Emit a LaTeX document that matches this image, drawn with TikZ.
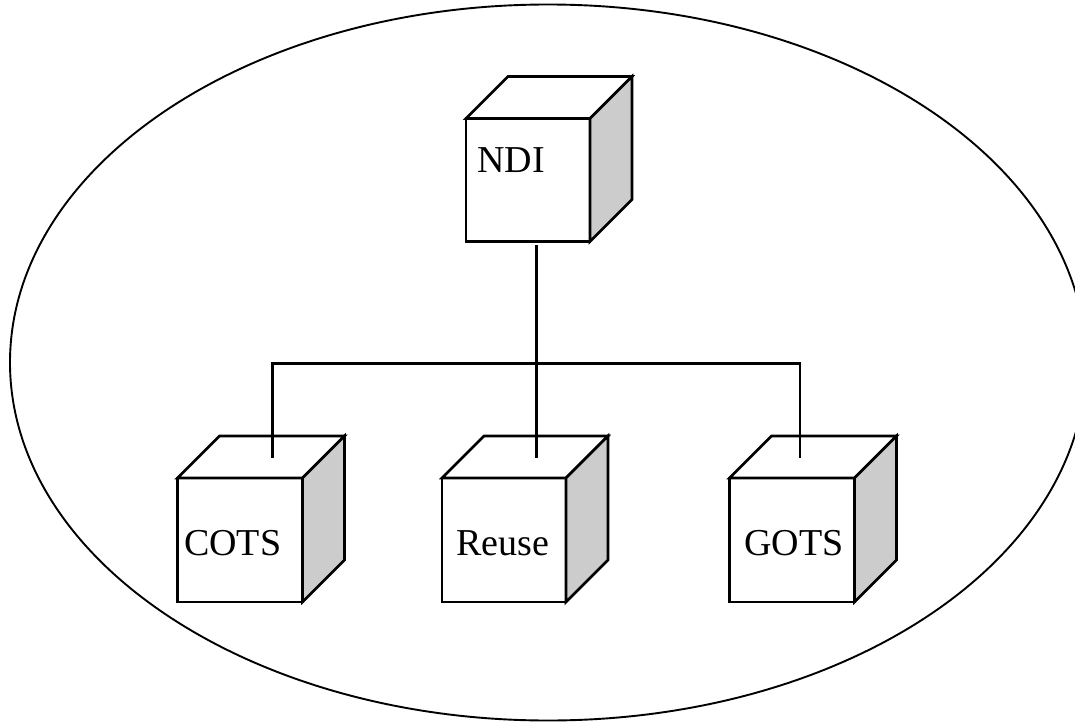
\documentclass[tikz,border=0pt]{standalone}
\usepackage{fontspec}
\setmainfont{Liberation Serif}
\tikzset{
  face/.style={draw=black, line width=2.6pt, line join=miter},
  front/.style={face, fill=white, inner sep=0pt, outer sep=0pt, anchor=north west},
  side/.style={face, fill=black!20},
  top/.style={face, fill=white},
  wire/.style={draw=black, line width=2.4pt},
  caption/.style={anchor=base west, inner sep=0pt, font=\fontsize{38}{40}\selectfont},
}
% #1 name, #2 x, #3 y of the front face's top-left corner, #4 width, #5 height
\newcommand\boxcube[5]{%
  \node[front, minimum width=#4pt, minimum height=#5pt] (#1) at (#2,#3) {};
  \draw[top]  (#1.north west) -- ++(42,-42) -- ++(#4,0) -- (#1.north east) -- cycle;
  \draw[side] (#1.north east) -- ++(42,-42) -- ++(0,#5) -- (#1.south east) -- cycle;
}
\begin{document}
\begin{tikzpicture}[x=1pt, y=-1pt]
  \useasboundingbox (0,0) rectangle (1075,722);
  % enclosing ellipse
  \draw[line width=1.9pt] (548,362.5) ellipse [x radius=538, y radius=358];

  % cubes
  \boxcube{ndi}{466}{118.5}{124}{123}
  \boxcube{cots}{177.5}{478}{125}{124}
  \boxcube{reuse}{442}{478}{124}{124}
  \boxcube{gots}{729.5}{478}{125}{124}

  % labels
  \node[caption] (ndiLabel)   at (477,172.5) {NDI};
  \node[caption] (cotsLabel)  at (184,555)   {COTS};
  \node[caption] (reuseLabel) at (456,555)   {Reuse};
  \node[caption] (gotsLabel)  at (744,555)   {GOTS};

  % tree connectors
  \coordinate (ndiOut)   at (536.5,245);
  \coordinate (busL)     at (272.5,363.5);
  \coordinate (busR)     at (800,363.5);
  \coordinate (cotsIn)   at (272.5,457.5);
  \coordinate (reuseIn)  at (536.5,457.5);
  \coordinate (gotsIn)   at (800,457.5);
  \draw[wire] (ndiOut) -- (reuseIn);
  \draw[wire] (cotsIn) -- (busL) -- (busR) -- (gotsIn);
\end{tikzpicture}
\end{document}
